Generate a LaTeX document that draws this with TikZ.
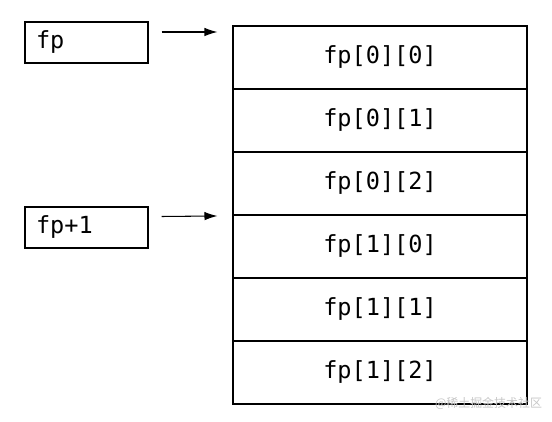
\documentclass[tikz,border=0pt]{standalone}
\usepackage{fontspec}
\setmonofont{DejaVu Sans Mono}
\newfontfamily\cjk{Noto Sans CJK SC}
\usetikzlibrary{arrows.meta}

\begin{document}
\begin{tikzpicture}[>={Latex[length=0.26cm,width=0.17cm]}, every node/.style={font=\ttfamily\fontsize{13.4}{16}\selectfont}]
  \useasboundingbox (0,0) rectangle (11.04,-8.44);
  % pointer variables
  \node[draw, line width=0.6pt, minimum width=2.46cm, minimum height=0.82cm, text width=2.02cm, inner xsep=0.22cm, align=left] (fp) at (1.73,-0.85) {fp};
  \node[draw, line width=0.6pt, minimum width=2.46cm, minimum height=0.82cm, text width=2.02cm, inner xsep=0.22cm, align=left] (fpone) at (1.73,-4.55) {fp+1};
  % the 2x3 array
  \foreach \r/\c [count=\i from 0] in {0/0,0/1,0/2,1/0,1/1,1/2}
    \node[draw, line width=0.6pt, minimum width=5.88cm, minimum height=1.26cm, inner sep=0pt] (cell\i) at (7.6,-1.15-1.26*\i) {fp[\r][\c]};
  \draw[->, line width=0.6pt] ([shift={(0.26,0.21)}]fp.east) -- ([shift={(-0.30,0.51)}]cell0.west);
  \draw[->, line width=0.6pt] ([shift={(0.26,0.22)}]fpone.east) -- ([xshift=-0.30cm,yshift=-0.03cm]cell3.north west);
  \node[font=\cjk\fontsize{6.8}{8}\selectfont, text=gray!45, inner sep=0pt] (mark) at (9.77,-8.07) {@稀土掘金技术社区};
\end{tikzpicture}
\end{document}
